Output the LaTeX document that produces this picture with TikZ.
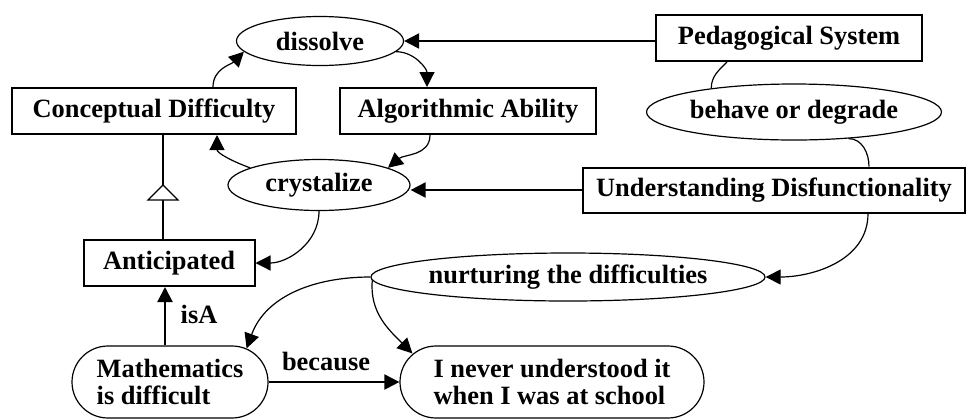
\documentclass[tikz,border=0pt]{standalone}
\usepackage{fontspec}
\setmainfont{Liberation Serif}
\usetikzlibrary{arrows.meta,shapes.geometric,calc}

\begin{document}
\begin{tikzpicture}[x=0.5pt,y=-0.5pt,
  font=\fontsize{13.2}{13.6}\selectfont\bfseries,
  concept/.style={draw,line width=1pt,inner sep=0pt,minimum height=23pt},
  relation/.style={draw,ellipse,line width=0.6pt,inner sep=0pt},
  phrase/.style={draw,rounded corners=18pt,line width=0.6pt,inner sep=0pt,
                 minimum height=36pt,align=left},
  tip/.style={-{Triangle[length=7.5pt,width=7.5pt]}},
  link/.style={line width=0.6pt,tip},
  plainlink/.style={line width=0.6pt},
  straight/.style={line width=1pt,tip},
]
\useasboundingbox (0,0) rectangle (975,419);

% concepts
\node[concept,minimum width=133pt] (PS)  at (789,38)  {Pedagogical System};
\node[concept,minimum width=142pt] (CD)  at (154,111) {Conceptual Difficulty};
\node[concept,minimum width=128pt] (AA)  at (468,111) {Algorithmic Ability};
\node[concept,minimum width=191pt,minimum height=22.5pt] (UD) at (774,190) {Understanding Disfunctionality};
\node[concept,minimum width=85.5pt] (AN) at (169,263) {Anticipated};

% relations
\node[relation,minimum width=83.5pt,minimum height=24.5pt] (DI) at (320,41)  {dissolve};
\node[relation,minimum width=147.5pt,minimum height=28pt]  (BD) at (794,112) {behave or degrade};
\node[relation,minimum width=91pt,minimum height=25.5pt]   (CR) at (319,185) {crystalize};
\node[relation,minimum width=190pt,minimum height=24pt]    (NU) at (568,277) {nurturing the difficulties};

% phrases
\node[phrase,minimum width=98pt]  (MA) at (170,382) {Mathematics\\is difficult};
\node[phrase,minimum width=152pt] (NE) at (552,382) {I never understood it\\when I was at school};

% links around dissolve and crystalize
\draw[link] ($(CD.north)+(59,0)$) to[out=90,in=225] (DI.188);
\draw[link] (DI.-8) to[out=0,in=90] ($(AA.north)+(-41,0)$);
\draw[straight] (PS.west |- DI.east) -- (DI.east);
\draw[link] ($(AA.south)+(-38,0)$) to[out=-90,in=40] (CR.14);
\draw[link] (CR.166) to[out=160,in=-90] ($(CD.south)+(63,0)$);
\draw[straight] (UD.west) -- (UD.west -| CR.east);
\draw[link] (CR.south) to[out=-90,in=0] (AN.east);

% pedagogical system chain
\draw[plainlink] ($(PS.south)+(-62,0)$) to[out=225,in=90] (BD.164);
\draw[plainlink] (BD.-26) to[out=0,in=90] ($(UD.north)+(95,0)$);
\draw[link] ($(UD.south)+(94,0)$) to[out=-90,in=0] (NU.east);

% generalisation Anticipated -> Conceptual Difficulty
\coordinate (GT) at ($(CD.south)+(9,0)$);
\draw[line width=1pt] (GT) -- (GT |- AN.north);
\coordinate (GA) at ($(GT)+(0,50)$);
\draw[line width=0.6pt,fill=white] (GA) -- ++(15,15) -- ++(-30,0) -- cycle;

% isA and because
\draw[straight] ($(MA.north)+(-5,0)$) -- ($(AN.south)+(-4,0)$)
  node[midway,right=4pt,yshift=1pt] (isA) {isA};
\draw[straight] (MA.east) -- (NE.west)
  node[midway,above=2pt,xshift=-4pt] (because) {because};

% nurturing the difficulties
\draw[link] (NU.west) to[out=180,in=70] ($(MA.north east)+(-22,3)$);
\draw[link] (NU.181.5) to[out=-95,in=135] ($(NE.north west)+(13,8)$);
\end{tikzpicture}
\end{document}
